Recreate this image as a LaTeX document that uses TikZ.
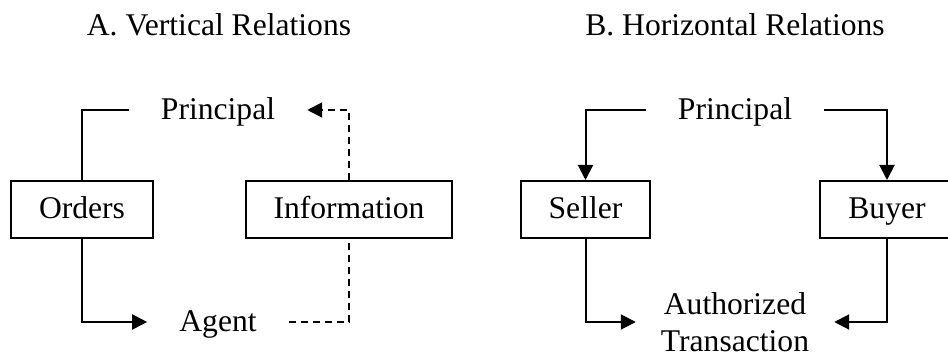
\documentclass[tikz,border=0pt]{standalone}
\usepackage{fontspec}
\setmainfont{Liberation Serif}
\usetikzlibrary{arrows.meta, positioning}

\begin{document}
\begin{tikzpicture}[x=1pt, y=-1pt, font=\fontsize{31.6}{37}\selectfont,
    box/.style={draw, line width=2pt, inner xsep=28pt, minimum height=57pt, text height=24pt, text depth=5pt},
    party/.style={inner xsep=32pt, inner ysep=0pt, text height=25pt, text depth=5pt},
    flow/.style={line width=2pt},
    tip/.style={-{Triangle[length=15pt, width=15pt]}},
    report/.style={line width=2pt, dash pattern=on 7pt off 5pt}]
    \useasboundingbox (0,0) rectangle (948,363);

    % Titles
    \node (titA) at (219,25) {A. Vertical Relations};
    \node (titB) at (735,25) {B. Horizontal Relations};

    % A. Vertical relations
    \node[party] (prinA) at (218,110) {Principal};
    \node[party] (agent) at (218,322) {Agent};
    \node[box] (orders) at (82,209.5) {Orders};
    \node[box] (info) at (349,209.5) {Information};

    \draw[flow] (orders.north) |- (prinA.west);
    \draw[flow, tip] (orders.south) |- (agent.west);
    \draw[report] (agent.east) -| (info.south);
    \draw[report, tip] (info.north) |- (prinA.east);

    % B. Horizontal relations
    \node[party] (prinB) at (735,110) {Principal};
    \node[inner xsep=25pt, inner ysep=0pt, align=center] (deal) at (735,322) {Authorized\\Transaction};
    \node[box] (seller) at (585.5,209.5) {Seller};
    \node[box] (buyer) at (887,209.5) {Buyer};

    \draw[flow, tip] (prinB.west) -| (seller.north);
    \draw[flow, tip] (prinB.east) -| (buyer.north);
    \draw[flow, tip] (seller.south) |- (deal.west);
    \draw[flow, tip] (buyer.south) |- (deal.east);
\end{tikzpicture}
\end{document}
